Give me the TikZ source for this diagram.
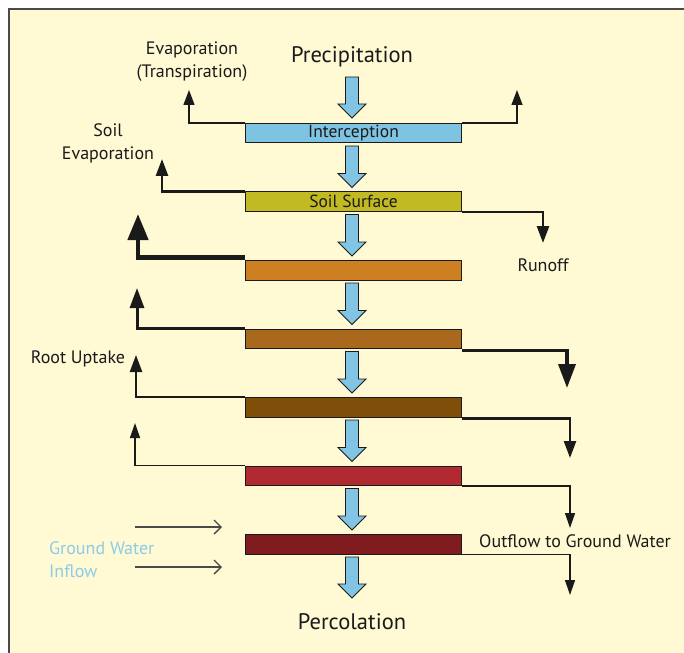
\documentclass[tikz,border=0pt]{standalone}
\usepackage{fontspec}
\setmainfont{PT Sans}
\usetikzlibrary{arrows.meta}
\definecolor{bg}{HTML}{FFF9D4}
\definecolor{frame}{HTML}{4A4A4A}
\definecolor{ink}{HTML}{1A1A1A}
\definecolor{cInter}{HTML}{7FC3E3}
\definecolor{cSoil}{HTML}{C1BA23}
\definecolor{cL3}{HTML}{CD8022}
\definecolor{cL4}{HTML}{A8691C}
\definecolor{cL5}{HTML}{7F4F0A}
\definecolor{cL6}{HTML}{B12A32}
\definecolor{cL7}{HTML}{801C20}
\definecolor{flowblue}{HTML}{82C4E4}
\definecolor{gwtext}{HTML}{8DCCE8}
\tikzset{
  layer/.style={draw=ink, line width=1pt, minimum width=216pt, minimum height=19.5pt, inner sep=0pt, anchor=north west, font=\fontsize{17.5}{18}\selectfont, text=ink},
  lbl/.style={font=\fontsize{18}{23}\selectfont, text=ink, inner sep=0pt, align=center},
  big/.style={font=\fontsize{22.5}{26}\selectfont, text=ink, inner sep=0pt},
  flow/.style={draw=ink, fill=flowblue, line width=0.9pt, line join=miter},
  side/.style={draw=ink, line join=miter},
}
\newcommand{\blockarr}[3]{% x, ytop, ybottom
  \draw[flow] (#1-6.5,#2) -- (#1+6.5,#2) -- (#1+6.5,#3-14) -- (#1+14,#3-14) -- (#1,#3) -- (#1-14,#3-14) -- (#1-6.5,#3-14) -- cycle;}
\begin{document}
\begin{tikzpicture}[x=1pt,y=-1pt]
\useasboundingbox (0,0) rectangle (684,652);
\fill[white] (0,0) rectangle (684,652);
\fill[bg] (9,9) rectangle (690,660);
\draw[frame, line width=1.6pt] (9,660) -- (9,9) -- (690,9);

% layers
\node[layer, fill=cInter] (inter) at (245,123) {Interception};
\node[layer, fill=cSoil] (soil) at (245,191.5) {Soil Surface};
\node[layer, fill=cL3] (l3) at (245,260) {};
\node[layer, fill=cL4] (l4) at (245,328.5) {};
\node[layer, fill=cL5] (l5) at (245,397) {};
\node[layer, fill=cL6] (l6) at (245,465.5) {};
\node[layer, fill=cL7] (l7) at (245,534) {};

% texts
\node[big] (prec) at (352,56.5) {Precipitation};
\node[big] (perc) at (352,621.5) {Percolation};
\node[lbl] (evap) at (192,61.5) {Evaporation\\(Transpiration)};
\node[lbl] (soilev) at (108,143.5) {Soil\\Evaporation};
\node[lbl] (runoff) at (543,265) {Runoff};
\node[lbl] (root) at (78,359) {Root Uptake};
\node[lbl] (out) at (575,541) {Outflow to Ground Water};
\node[lbl, align=left, anchor=west, text=gwtext] (gw) at (49,559.5) {Ground Water\\Inflow};

% block arrows
\blockarr{352}{77}{118}
\blockarr{352}{146}{187.5}
\blockarr{352}{214.5}{256}
\blockarr{352}{283}{324.5}
\blockarr{352}{351.5}{393}
\blockarr{352}{420}{461.5}
\blockarr{352}{488.5}{530}
\blockarr{352}{557}{598}

% side flows
\coordinate (a1) at (189,90); \coordinate (a2) at (517,90);
\draw[side, line width=1.3pt, -{Triangle[length=15pt,width=11pt]}] (inter.north west) -| (a1);
\draw[side, line width=1.3pt, -{Triangle[length=15pt,width=11pt]}] (inter.north east) -| (a2);

\coordinate (b1) at (162,159); \coordinate (b2) at (543,243);
\draw[side, line width=2.6pt, -{Triangle[length=17pt,width=12pt]}] (soil.north west) -| (b1);
\draw[side, line width=2.6pt, -{Triangle[length=17pt,width=12pt]}] (soil.south east) -| (b2);

\coordinate (c1) at (138,214);
\draw[side, line width=4.5pt, -{Triangle[length=26pt,width=20pt]}] ([yshift=2.5pt]l3.north west) -| (c1);

\coordinate (d1) at (137,288); \coordinate (d2) at (567,388);
\draw[side, line width=3pt, -{Triangle[length=20pt,width=14pt]}] (l4.north west) -| (d1);
\draw[side, line width=3.6pt, -{Triangle[length=24pt,width=17pt]}] ([yshift=-1.5pt]l4.south east) -| (d2);

\coordinate (e1) at (136,355); \coordinate (e2) at (570,458);
\draw[side, line width=2.4pt, -{Triangle[length=17pt,width=12pt]}] (l5.north west) -| (e1);
\draw[side, line width=2.4pt, -{Triangle[length=17pt,width=12pt]}] ([yshift=-1pt]l5.south east) -| (e2);

\coordinate (f1) at (135,423); \coordinate (f2) at (570,528);
\draw[side, line width=1.4pt, -{Triangle[length=15pt,width=10pt]}] (l6.north west) -| (f1);
\draw[side, line width=1.4pt, -{Triangle[length=15pt,width=10pt]}] (l6.south east) -| (f2);

\coordinate (g2) at (570,595);
\draw[side, line width=1.4pt, -{Triangle[length=15pt,width=10pt]}] (l7.south east) -| (g2);

% ground water inflow
\coordinate (h1s) at (135,527); \coordinate (h1e) at (222,527);
\coordinate (h2s) at (135,567); \coordinate (h2e) at (222,567);
\draw[draw=frame, line width=1.4pt, -{Straight Barb[length=7pt,width=14pt]}] (h1s) -- (h1e);
\draw[draw=frame, line width=1.4pt, -{Straight Barb[length=7pt,width=14pt]}] (h2s) -- (h2e);
\end{tikzpicture}
\end{document}
